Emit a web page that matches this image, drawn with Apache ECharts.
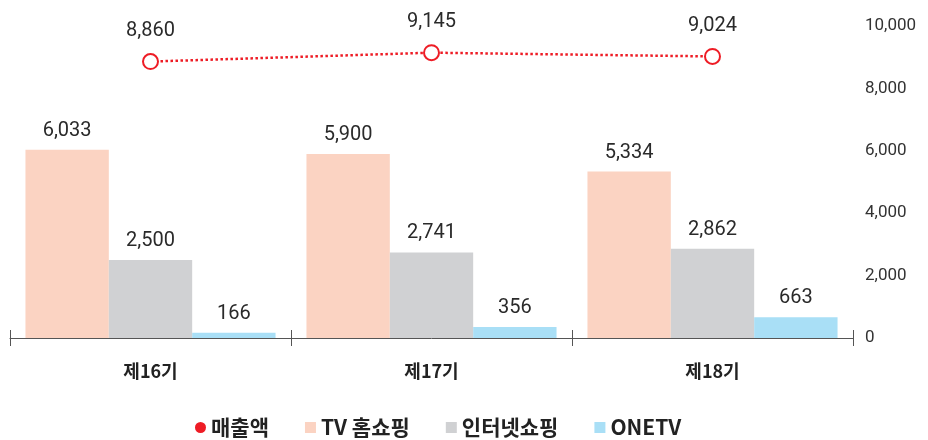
<!DOCTYPE html>
<html>
<head>
<meta charset="utf-8">
<script src="https://cdn.jsdelivr.net/npm/echarts@6/dist/echarts.min.js"></script>
<style>
html, body { margin: 0; padding: 0; background: #fff; }
#main { width: 928px; height: 440px; }
</style>
</head>
<body>
<div id="main"></div>
<script>
// 기수
var categories = ['제16기', '제17기', '제18기'];
// 매출액
var sales = [8860, 9145, 9024];
// 부문별
var tvHome = [6033, 5900, 5334];
var internet = [2500, 2741, 2862];
var onetv = [166, 356, 663];

var numFont = "Roboto, 'Noto Sans CJK KR', sans-serif";
var krFont = "'Noto Sans CJK KR', 'Noto Sans', sans-serif";
var chart = echarts.init(document.getElementById('main'));

function fmt(p) {
	var v = typeof p === 'number' ? p : p.value;
	return v.toLocaleString('en-US');
}

var barLabel = {
	show: true,
	position: 'top',
	distance: 9,
	fontSize: 20,
	color: '#2a2a2a',
	fontFamily: numFont,
	formatter: fmt
};

var option = {
	animation: false,
	textStyle: { fontFamily: numFont },
	grid: {
		left: 10,
		right: 75,
		top: 26,
		bottom: 102
	},
	legend: {
		top: 412,
		left: 190,
		itemGap: 36,
		itemWidth: 11,
		itemHeight: 11,
		textStyle: {
			fontSize: 21,
			fontWeight: 'bold',
			color: '#222',
			fontFamily: krFont
		},
		data: [
			{ name: '매출액', icon: 'circle', itemStyle: { color: '#ee1c25', borderWidth: 0 } },
			{ name: 'TV 홈쇼핑', icon: 'rect' },
			{ name: '인터넷쇼핑', icon: 'rect' },
			{ name: 'ONETV', icon: 'rect' }
		]
	},
	xAxis: [{
		type: 'category',
		data: categories,
		axisLine: { lineStyle: { color: '#555', width: 1 } },
		axisTick: { show: true, length: 8, lineStyle: { color: '#555' } },
		axisLabel: {
			margin: 24,
			fontSize: 18,
			fontWeight: 'bold',
			color: '#222',
			fontFamily: krFont
		}
	}, {
		// 눈금이 축선을 가로지르도록 위쪽 눈금용
		type: 'category',
		data: categories,
		position: 'bottom',
		axisLine: { show: false },
		axisTick: { show: true, inside: true, length: 8, lineStyle: { color: '#555' } },
		axisLabel: { show: false }
	}],
	yAxis: {
		type: 'value',
		position: 'right',
		min: 0,
		max: 10000,
		interval: 2000,
		splitLine: { show: false },
		axisLine: { show: false },
		axisTick: { show: false },
		axisLabel: {
			margin: 12,
			fontSize: 17,
			color: '#333',
			formatter: fmt
		}
	},
	series: [{
		name: '매출액',
		type: 'line',
		data: sales,
		symbol: 'emptyCircle',
		symbolSize: 15,
		z: 5,
		itemStyle: { color: '#ee1c25', borderWidth: 4, borderColor: '#ee1c25' },
		lineStyle: { color: '#ee1c25', width: 2.5, type: 'dotted' },
		label: {
			show: true,
			position: 'top',
			distance: 12,
			fontSize: 20,
			color: '#2a2a2a',
			formatter: fmt
		}
	}, {
		name: 'TV 홈쇼핑',
		type: 'bar',
		data: tvHome,
		barGap: 0,
		barCategoryGap: '11%',
		itemStyle: { color: '#fbd3c2' },
		label: barLabel
	}, {
		name: '인터넷쇼핑',
		type: 'bar',
		data: internet,
		barGap: 0,
		barCategoryGap: '11%',
		itemStyle: { color: '#d0d1d3' },
		label: barLabel
	}, {
		name: 'ONETV',
		type: 'bar',
		data: onetv,
		barGap: 0,
		barCategoryGap: '11%',
		itemStyle: { color: '#a9dff6' },
		label: barLabel
	}]
};
chart.setOption(option);
</script>
</body>
</html>
